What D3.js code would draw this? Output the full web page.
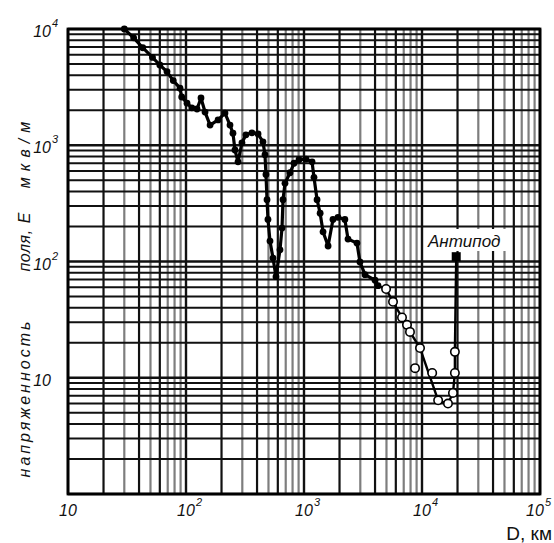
<!DOCTYPE html>
<html>
<head>
<meta charset="utf-8">
<script src="https://cdn.jsdelivr.net/npm/d3@7"></script>
<style>
  body { margin: 0; background: #fff; }
  svg { display: block; }
  .tick-label { font-family: "Liberation Sans", Arial, sans-serif; font-style: italic; fill: #111; }
</style>
</head>
<body>
<div id="chart"></div>
<script>
// distance D, km (solid-dot branch)
const solidD = [30, 36, 43, 52, 60, 69, 78, 89, 92, 102, 112, 124, 134, 145, 160, 187, 214, 236, 250, 260,
  276, 298, 322, 362, 408, 449, 467, 476, 486, 495, 515, 546, 579, 626, 651, 664, 690, 761, 823, 907,
  1040, 1170, 1215, 1290, 1370, 1450, 1600, 1760, 1940, 2220, 2360, 2810, 2980, 3290, 4000, 4240];
// field strength E, мкв/м
const solidE = [10000, 8400, 6900, 5700, 4900, 4300, 3600, 3100, 2600, 2300, 2100, 2050, 2550, 1930, 1490, 1650, 1890, 1490, 1270, 910,
  720, 1050, 1230, 1280, 1250, 1070, 830, 560, 340, 230, 150, 107, 74, 126, 194, 340, 470, 580, 700, 750,
  760, 720, 530, 340, 260, 180, 136, 230, 240, 230, 156, 144, 99, 77, 69, 62];

// open-circle branch (line)
const openLineD = [4240, 4960, 5680, 6770, 7460, 7910, 9620, 13700, 16600, 18300, 19000, 19000, 19500];
const openLineE = [62, 58, 45, 33, 28.5, 24.8, 18, 6.4, 6.0, 7.4, 11, 16.7, 110];

// open circles
const circleD = [4960, 5680, 6770, 7460, 7910, 9620, 8730, 12200, 13700, 16600, 18300, 19000, 19000];
const circleE = [58, 45, 33, 28.5, 24.8, 18, 12.1, 11, 6.4, 6.0, 7.4, 11, 16.7];

// antipode
const antipodeD = [19500];
const antipodeE = [110];

const xTickVals = [10, 100, 1000, 10000, 100000];
const xTickExp = ["", "2", "3", "4", "5"];
const yTickVals = [10, 100, 1000, 10000];
const yTickExp = ["", "2", "3", "4"];

const width = 554, height = 543;
const margin = { left: 68, top: 29, right: 14, bottom: 49 };

const svg = d3.select("#chart").append("svg")
  .attr("width", width)
  .attr("height", height);

svg.append("rect").attr("width", width).attr("height", height).attr("fill", "#fff");

const x = d3.scaleLog().domain([10, 100000]).range([margin.left, width - margin.right]);
const y = d3.scaleLog().domain([1, 10000]).range([height - margin.bottom, margin.top]);

// grid
const grid = svg.append("g");
const lead = (v) => Math.round(v / Math.pow(10, Math.floor(Math.log10(v) + 1e-9)));

grid.selectAll(".vline").data(x.ticks()).enter().append("line")
  .attr("x1", (d) => x(d)).attr("x2", (d) => x(d))
  .attr("y1", y(1)).attr("y2", y(10000))
  .attr("stroke", (d) => ([1, 2, 4, 6].includes(lead(d)) ? "#111" : "#7e7e7e"))
  .attr("stroke-width", (d) => (lead(d) === 1 ? 2.4 : 2.2));

grid.selectAll(".hline").data(y.ticks()).enter().append("line")
  .attr("x1", x(10)).attr("x2", x(100000))
  .attr("y1", (d) => y(d)).attr("y2", (d) => y(d))
  .attr("stroke", "#111")
  .attr("stroke-width", (d) => (lead(d) === 1 ? 2.4 : 1.9));

// frame
svg.append("rect")
  .attr("x", x(10)).attr("y", y(10000))
  .attr("width", x(100000) - x(10)).attr("height", y(1) - y(10000))
  .attr("fill", "none").attr("stroke", "#000").attr("stroke-width", 2.8);

// x tick labels
xTickVals.forEach((v, i) => {
  const px = i === xTickVals.length - 1 ? x(v) - 5 : x(v);
  svg.append("text").attr("class", "tick-label")
    .attr("x", px).attr("y", 516).attr("text-anchor", "middle")
    .attr("font-size", 16).text("10");
  if (xTickExp[i]) {
    svg.append("text").attr("class", "tick-label")
      .attr("x", px + 10).attr("y", 506).attr("font-size", 11).text(xTickExp[i]);
  }
});

// y tick labels
yTickVals.forEach((v, i) => {
  svg.append("text").attr("class", "tick-label")
    .attr("x", 51).attr("y", y(v) + 8).attr("text-anchor", "end")
    .attr("font-size", 16).text("10");
  if (yTickExp[i]) {
    svg.append("text").attr("class", "tick-label")
      .attr("x", 52).attr("y", y(v) - 2).attr("font-size", 11).text(yTickExp[i]);
  }
});

// axis titles
const yTitle = [
  { t: "напряженность", c: 398, s: 3 },
  { t: "поля", c: 253, s: 0.5 },
  { t: ",", c: 232, s: 0 },
  { t: "Е", c: 218, s: 0 },
  { t: "мкв/м", c: 152, s: 6 }
];
yTitle.forEach((p) => {
  svg.append("text")
    .attr("transform", `translate(30,${p.c}) rotate(-90)`)
    .attr("text-anchor", "middle")
    .attr("font-family", "Liberation Sans, Arial, sans-serif")
    .attr("font-style", "italic")
    .attr("font-size", 16)
    .attr("letter-spacing", p.s)
    .attr("fill", "#111")
    .text(p.t);
});

svg.append("text")
  .attr("x", 552).attr("y", 540).attr("text-anchor", "end")
  .attr("font-family", "Liberation Sans, Arial, sans-serif")
  .attr("font-size", 19).attr("fill", "#111")
  .text("D, км");

// curves
const line = d3.line().x((d) => x(d[0])).y((d) => y(d[1]));
const solid = d3.zip(solidD, solidE);
const openLine = d3.zip(openLineD, openLineE);

svg.append("path").datum(solid)
  .attr("d", line).attr("fill", "none")
  .attr("stroke", "#000").attr("stroke-width", 3.2).attr("stroke-linejoin", "round");

svg.selectAll(".dot").data(solid).enter().append("circle")
  .attr("cx", (d) => x(d[0])).attr("cy", (d) => y(d[1]))
  .attr("r", 3.4).attr("fill", "#000");

svg.append("path").datum(openLine)
  .attr("d", line).attr("fill", "none")
  .attr("stroke", "#000").attr("stroke-width", 2.4).attr("stroke-linejoin", "round");

svg.selectAll(".ring").data(d3.zip(circleD, circleE)).enter().append("circle")
  .attr("cx", (d) => x(d[0])).attr("cy", (d) => y(d[1]))
  .attr("r", 4.2).attr("fill", "#fff").attr("stroke", "#000").attr("stroke-width", 1.6);

// antipode
const ax = x(antipodeD[0]), ay = y(antipodeE[0]);
svg.append("rect")
  .attr("x", ax - 4.5).attr("y", ay - 4.5).attr("width", 9).attr("height", 9).attr("fill", "#000");

svg.append("rect")
  .attr("x", 425).attr("y", 229).attr("width", 86).attr("height", 22).attr("fill", "#fff");
svg.append("text")
  .attr("x", 428).attr("y", 247)
  .attr("font-family", "Liberation Sans, Arial, sans-serif")
  .attr("font-style", "italic").attr("font-size", 17).attr("fill", "#111")
  .text("Антипод");
</script>
</body>
</html>
